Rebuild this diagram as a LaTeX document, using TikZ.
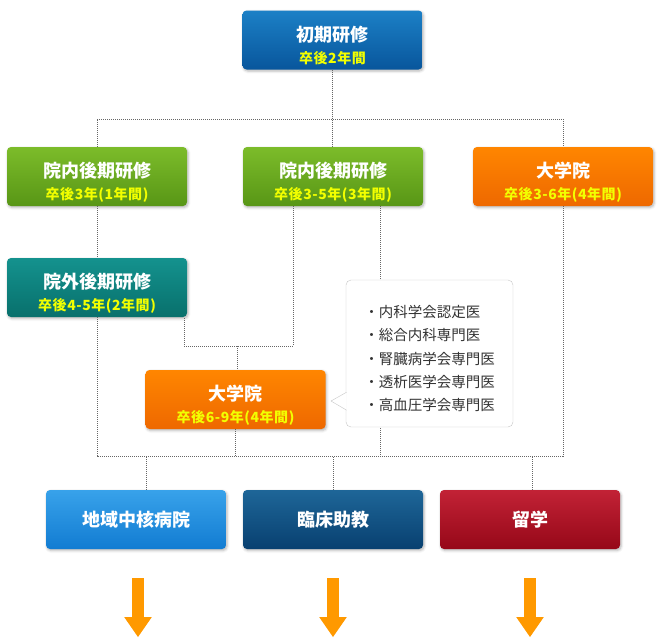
\documentclass[tikz,border=0pt]{standalone}
\usepackage{fontspec}
\usetikzlibrary{arrows.meta,shadows.blur}
\newfontfamily\jp{Noto Sans CJK JP}
\definecolor{bluetop}{RGB}{28,128,198}
\definecolor{bluebot}{RGB}{8,86,156}
\definecolor{greentop}{RGB}{124,188,42}
\definecolor{greenbot}{RGB}{88,150,22}
\definecolor{orangetop}{RGB}{255,134,0}
\definecolor{orangebot}{RGB}{238,104,0}
\definecolor{tealtop}{RGB}{20,146,142}
\definecolor{tealbot}{RGB}{8,112,108}
\definecolor{skytop}{RGB}{56,162,234}
\definecolor{skybot}{RGB}{18,124,210}
\definecolor{navytop}{RGB}{30,102,152}
\definecolor{navybot}{RGB}{8,64,112}
\definecolor{redtop}{RGB}{194,34,54}
\definecolor{redbot}{RGB}{150,8,24}
\definecolor{yeartext}{RGB}{242,255,0}
\definecolor{arroworange}{RGB}{255,153,0}
\newcommand{\stagetitle}[1]{{\fontsize{18}{22}\selectfont\rule{0pt}{26pt}#1}}
\newcommand{\stagename}[1]{{\fontsize{18}{22}\selectfont #1}}
\newcommand{\stageyears}[1]{{\fontsize{14}{22}\selectfont\addfontfeature{LetterSpace=4}\color{yeartext}#1}}

\begin{document}
\begin{tikzpicture}[x=1pt,y=-1pt]

%
% Styles
%
\tikzstyle{stage} = [rectangle,rounded corners=4pt,minimum width=180pt,minimum height=59pt,inner sep=0pt,align=center,text=white,font=\jp\bfseries\fontsize{18}{22}\selectfont,blur shadow={shadow xshift=1pt,shadow yshift=-1.5pt,shadow opacity=30,shadow blur radius=2.5pt}]
\tikzstyle{link} = [draw=black!60,line width=0.9pt,dash pattern=on 0.9pt off 1.1pt]
\tikzstyle{memo} = [rectangle,rounded corners=5pt,draw=black!22,fill=white,minimum width=167pt,minimum height=147pt,align=left,text=black!80,font=\jp\fontsize{14.5}{23.3}\selectfont]
\tikzstyle{down} = [draw=arroworange,line width=12pt,-{Triangle[width=26pt,length=20pt]}]

\useasboundingbox (0,0) rectangle (660,637);

\node[stage,top color=bluetop,bottom color=bluebot] (shoki) at (332.5,40) {\stagetitle{初期研修}\\\stageyears{卒後2年間}};
\node[stage,top color=greentop,bottom color=greenbot] (innai1) at (97,176.5) {\stagetitle{院内後期研修}\\\stageyears{卒後3年(1年間)}};
\node[stage,top color=greentop,bottom color=greenbot] (innai2) at (333,176.5) {\stagetitle{院内後期研修}\\\stageyears{卒後3-5年(3年間)}};
\node[stage,top color=orangetop,bottom color=orangebot] (daigaku1) at (563,176.5) {\stagetitle{大学院}\\\stageyears{卒後3-6年(4年間)}};
\node[stage,top color=tealtop,bottom color=tealbot] (ingai) at (97,287.5) {\stagetitle{院外後期研修}\\\stageyears{卒後4-5年(2年間)}};
\node[stage,top color=orangetop,bottom color=orangebot] (daigaku2) at (235.5,399.5) {\stagetitle{大学院}\\\stageyears{卒後6-9年(4年間)}};
\node[stage,top color=skytop,bottom color=skybot] (chiiki) at (136,519.5) {\stagename{地域中核病院}};
\node[stage,top color=navytop,bottom color=navybot] (rinsho) at (333,519.5) {\stagename{臨床助教}};
\node[stage,top color=redtop,bottom color=redbot] (ryugaku) at (530,519.5) {\stagename{留学}};

\coordinate (tl) at (97,119);
\coordinate (tr) at (563,119);
\coordinate (bl) at (97,456);
\coordinate (br) at (563,456);
\coordinate (join) at (237,346);

% dotted paths
\draw[link] (shoki.south) -- (shoki.south |- innai2.north);
\draw[link] (innai1.north) -- (tl) -- (tr) -- (daigaku1.north);
\draw[link] (innai1.south) -- (ingai.north);
\draw[link] (ingai.south) -- (bl) -- (br) -- (daigaku1.south);
\draw[link] ([xshift=-40]innai2.south) |- (join) -| ([xshift=87]ingai.south);
\draw[link] (join) -- (join |- daigaku2.north);
\draw[link] (daigaku2.south) -- (daigaku2.south |- bl);
\draw[link] ([xshift=47]innai2.south) -- ([xshift=47]innai2.south |- bl);
\draw[link] ([xshift=10]chiiki.north) -- ([xshift=10]chiiki.north |- bl);
\draw[link] (rinsho.north) -- (rinsho.north |- bl);
\draw[link] ([xshift=2]ryugaku.north) -- ([xshift=2]ryugaku.north |- bl);

% certificates
\node[memo] (certs) at (429.5,353.5) {\rule{0pt}{22.5pt}・内科学会認定医\\・総合内科専門医\\・腎臓病学会専門医\\・透析医学会専門医\\・高血圧学会専門医};
\coordinate (tip) at (331,401);
\draw[draw=black!22,fill=white] ([xshift=0.8,yshift=35]certs.south west) -- (tip) -- ([xshift=0.8,yshift=17]certs.south west);

\draw[down] ([xshift=2,yshift=-29]chiiki.south) -- ++(0,59);
\draw[down] ([yshift=-29]rinsho.south) -- ++(0,59);
\draw[down] ([yshift=-29]ryugaku.south) -- ++(0,59);

\end{tikzpicture}
\end{document}
